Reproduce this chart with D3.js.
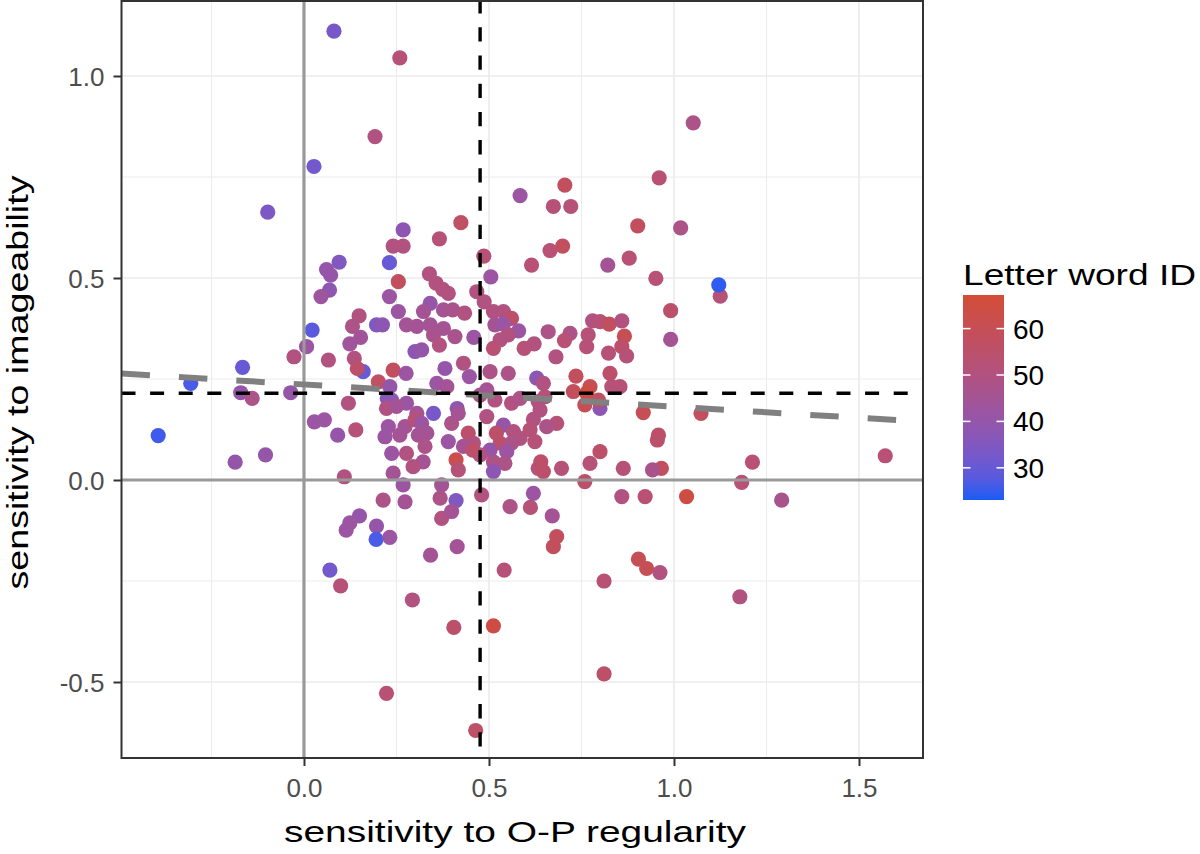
<!DOCTYPE html>
<html><head><meta charset="utf-8">
<script src="https://cdn.jsdelivr.net/npm/d3@7"></script>
<style>body{margin:0;background:#fff}svg{display:block}text{font-family:"Liberation Sans",Arial,sans-serif}</style>
</head><body>
<svg id="chart" width="1200" height="854"></svg>
<script>
// ---- data ----
const xVals = [0.081,0.192,0.027,-0.098,0.259,0.584,0.705,0.674,0.721,0.902,0.268,0.241,0.268,0.366,0.424,0.699,0.665,0.486,
1.052,0.960,1.018,
0.095,0.061,0.072,0.069,0.046,0.022,0.149,0.131,0.153,0.196,0.124,0.007,-0.027,0.066,0.136,0.160,0.144,0.201,-0.166,-0.306,-0.171,-0.140,-0.036,0.120,0.028,0.055,0.091,0.140,-0.394,-0.186,-0.104,0.109,0.214,
0.231,0.615,0.821,0.879,0.255,0.505,0.339,0.357,0.375,0.390,0.467,0.487,0.231,0.255,0.341,0.323,0.377,0.402,0.434,0.212,0.277,0.305,0.341,0.377,0.408,0.350,0.366,0.300,0.318,0.459,
0.512,0.539,0.561,0.516,0.539,0.580,0.530,0.552,0.512,0.660,0.622,0.595,0.681,0.719,0.704,0.780,0.800,0.825,0.859,0.768,0.764,0.866,0.823,0.859,0.872,
0.241,0.276,0.381,0.431,0.447,0.503,0.552,0.629,0.647,0.735,0.800,0.773,0.827,0.832,0.854,0.728,0.764,0.759,0.796,0.917,
0.232,0.225,0.237,0.223,0.277,0.350,0.359,0.386,0.414,0.476,0.494,0.516,0.561,0.584,0.633,0.651,0.638,0.620,0.683,0.656,
0.250,0.305,0.228,0.273,0.300,0.318,0.219,0.259,0.309,0.332,0.399,0.417,0.390,0.444,0.458,0.494,0.539,0.520,0.566,0.584,0.611,0.624,0.530,0.561,0.431,0.503,0.548,0.476,0.512,0.543,0.512,0.411,0.456,0.417,0.322,0.295,0.277,0.237,0.327,
0.241,0.268,0.273,0.372,0.368,0.411,0.480,0.557,0.620,0.633,0.647,0.640,0.696,0.773,0.800,0.759,0.863,0.859,0.922,
0.951,1.125,1.121,0.991,0.991,1.073,0.958,0.955,0.966,0.942,1.212,1.183,1.571,1.034,1.291,
0.150,0.124,0.114,0.196,0.195,0.070,0.099,0.223,
0.612,0.671,0.232,0.372,0.399,0.414,0.342,0.683,0.674,0.541,0.904,0.926,0.811,0.293,0.405,0.512,0.811,0.464,0.962,1.178];
const yVals = [1.111,0.850,0.776,0.663,1.045,0.704,0.730,0.677,0.677,0.629,0.619,0.579,0.579,0.597,0.637,0.579,0.568,0.554,
0.884,0.748,0.624,
0.539,0.521,0.507,0.470,0.454,0.371,0.406,0.380,0.353,0.384,0.337,0.330,0.305,0.297,0.301,0.268,0.276,0.243,0.279,0.239,0.216,0.202,0.216,0.190,0.144,0.149,0.111,0.124,0.110,0.044,0.062,0.008,-0.050,
0.538,0.532,0.532,0.549,0.491,0.503,0.510,0.487,0.472,0.462,0.466,0.441,0.454,0.417,0.437,0.417,0.421,0.421,0.413,0.384,0.384,0.380,0.384,0.375,0.355,0.359,0.334,0.318,0.322,0.353,
0.417,0.417,0.400,0.384,0.386,0.369,0.347,0.359,0.326,0.367,0.337,0.326,0.305,0.363,0.345,0.394,0.392,0.386,0.394,0.359,0.330,0.356,0.314,0.330,0.307,
0.272,0.264,0.276,0.289,0.256,0.268,0.264,0.252,0.239,0.257,0.177,0.231,0.264,0.231,0.231,0.219,0.215,0.186,0.198,0.167,
0.231,0.202,0.198,0.177,0.190,0.165,0.239,0.231,0.177,0.210,0.223,0.198,0.190,0.202,0.194,0.206,0.173,0.150,0.140,0.132,
0.182,0.165,0.132,0.132,0.149,0.140,0.107,0.111,0.111,0.116,0.140,0.165,0.095,0.116,0.091,0.157,0.136,0.116,0.120,0.103,0.124,0.095,0.091,0.091,0.083,0.074,0.070,0.062,0.045,0.041,0.021,0.050,0.074,0.025,0.045,0.033,0.066,0.066,0.083,
0.017,-0.012,-0.054,-0.012,-0.045,-0.051,-0.037,-0.066,-0.033,0.029,0.021,0.045,0.029,0.041,0.070,-0.004,0.029,-0.041,-0.041,
0.499,0.455,0.483,0.419,0.348,0.165,0.111,0.099,0.029,0.025,0.044,-0.006,0.060,-0.041,-0.050,
-0.089,-0.106,-0.124,-0.114,-0.147,-0.223,-0.262,-0.528,
-0.068,-0.089,-0.142,-0.095,-0.078,-0.165,-0.186,-0.140,-0.165,-0.223,-0.196,-0.219,-0.250,-0.297,-0.365,-0.361,-0.480,-0.620,-0.229,-0.289];
const idVals = [33,50,32,34,52,42,58,52,52,58,38,50,50,52,57,58,53,52,
48,53,48,
35,40,40,38,43,28,50,48,44,35,44,42,50,50,50,30,55,57,30,26,40,48,40,50,42,42,40,52,25,40,40,50,48,
30,53,45,53,58,42,50,50,50,50,50,50,42,42,40,45,45,47,50,38,45,45,45,45,47,47,50,38,40,42,
50,50,55,45,42,42,50,50,53,48,50,52,50,48,53,50,52,58,50,52,52,60,52,55,52,
58,42,40,50,42,48,48,38,50,58,38,60,55,52,52,58,65,60,58,60,
40,36,38,50,42,33,42,45,38,48,45,50,50,48,50,52,50,50,52,48,
45,45,42,45,52,42,42,45,45,45,48,45,42,55,50,50,40,55,50,50,52,52,55,48,45,40,42,50,48,48,38,62,55,52,45,50,50,42,48,
45,42,45,45,48,35,50,48,42,52,55,55,52,52,55,55,52,50,53,
53,52,24,55,45,58,55,55,58,47,53,53,53,64,47,
40,42,42,40,26,32,52,53,
52,45,42,50,45,45,45,58,58,52,60,60,53,50,55,64,55,56,50,50];

const xTicks = [0.0, 0.5, 1.0, 1.5];
const xMinor = [-0.25, 0.25, 0.75, 1.25];
const yTicks = [-0.5, 0.0, 0.5, 1.0];
const yMinor = [-0.25, 0.25, 0.75];
const legendTicks = [30, 40, 50, 60];
const vRefX = 0.476;       // vertical dashed reference
const hRefY = 0.2146;      // horizontal dashed reference
const regIntercept = 0.2364, regSlope = -0.055;
const xTitle = "sensitivity to O-P regularity";
const yTitle = "sensitivity to imageability";
const legendTitle = "Letter word ID";

// ---- layout ----
const svg = d3.select("#chart");
const P = {l:121.5, r:923, t:1, b:758};
const x = d3.scaleLinear().domain([-0.4932, 1.6730]).range([P.l, P.r]);
const y = d3.scaleLinear().domain([-0.6881, 1.1856]).range([P.b, P.t]);
const idDomain = [23.06, 67.24];
const color = d3.scaleLinear().domain(idDomain).range(["#1b5cf4", "#d34c36"]).interpolate(d3.interpolateLab);

const fmt = d => d.toFixed(1);
const g = svg.append("g");

// grid
g.selectAll(".vmin").data(xMinor).join("line").attr("x1",d=>x(d)).attr("x2",d=>x(d)).attr("y1",P.t).attr("y2",P.b).attr("stroke","#ebebeb").attr("stroke-width",1);
g.selectAll(".hmin").data(yMinor).join("line").attr("y1",d=>y(d)).attr("y2",d=>y(d)).attr("x1",P.l).attr("x2",P.r).attr("stroke","#ebebeb").attr("stroke-width",1);
g.selectAll(".vmaj").data(xTicks).join("line").attr("x1",d=>x(d)).attr("x2",d=>x(d)).attr("y1",P.t).attr("y2",P.b).attr("stroke","#ebebeb").attr("stroke-width",1.6);
g.selectAll(".hmaj").data(yTicks).join("line").attr("y1",d=>y(d)).attr("y2",d=>y(d)).attr("x1",P.l).attr("x2",P.r).attr("stroke","#ebebeb").attr("stroke-width",1.6);

// points
const pts = xVals.map((v,i)=>({x:v, y:yVals[i], id:idVals[i]}));
g.selectAll("circle").data(pts).join("circle")
  .attr("cx",d=>x(d.x)).attr("cy",d=>y(d.y)).attr("r",7.6).attr("fill",d=>color(d.id));

// zero lines
g.append("line").attr("x1",x(0)).attr("x2",x(0)).attr("y1",P.t).attr("y2",P.b).attr("stroke","#999").attr("stroke-width",3.2);
g.append("line").attr("x1",P.l).attr("x2",P.r).attr("y1",y(0)).attr("y2",y(0)).attr("stroke","#999").attr("stroke-width",3.2);

// regression (gray long dash)
const xd = x.domain();
g.append("line").attr("x1",x(xd[0])).attr("y1",y(regIntercept+regSlope*xd[0]))
  .attr("x2",x(xd[1])).attr("y2",y(regIntercept+regSlope*xd[1]))
  .attr("stroke","#808080").attr("stroke-width",6).attr("stroke-dasharray","28.5,29");

// black dashed reference lines
g.append("line").attr("x1",x(vRefX)).attr("x2",x(vRefX)).attr("y1",P.t).attr("y2",P.b)
  .attr("stroke","#000").attr("stroke-width",3.4).attr("stroke-dasharray","14.3,13.9").attr("stroke-dashoffset",1.9);
g.append("line").attr("x1",P.l).attr("x2",P.r).attr("y1",y(hRefY)).attr("y2",y(hRefY))
  .attr("stroke","#000").attr("stroke-width",3.4).attr("stroke-dasharray","14,14.6");

// panel border
g.append("rect").attr("x",P.l).attr("y",P.t).attr("width",P.r-P.l).attr("height",P.b-P.t).attr("fill","none").attr("stroke","#333").attr("stroke-width",2);

// axes
const xAxis = d3.axisBottom(x).tickValues(xTicks).tickFormat(fmt).tickSize(8).tickPadding(6);
const yAxis = d3.axisLeft(y).tickValues(yTicks).tickFormat(fmt).tickSize(8).tickPadding(9);
const gx = svg.append("g").attr("transform",`translate(0,${P.b})`).call(xAxis);
const gy = svg.append("g").attr("transform",`translate(${P.l},0)`).call(yAxis);
[gx,gy].forEach(a=>{
  a.select(".domain").remove();
  a.selectAll(".tick line").attr("stroke","#333").attr("stroke-width",2);
  a.selectAll(".tick text").attr("fill","#4d4d4d").attr("font-size",26).attr("font-family","Liberation Sans, Arial, sans-serif");
});
gx.selectAll(".tick text").attr("dy","0.95em");
gy.selectAll(".tick text").attr("dy","0.36em");

// titles
svg.append("text").attr("x",515).attr("y",842).attr("text-anchor","middle").attr("font-size",30)
  .attr("textLength",462).attr("lengthAdjust","spacingAndGlyphs").attr("fill","#000").text(xTitle);
svg.append("text").attr("transform",`translate(28,${(P.t+P.b)/2+3}) rotate(-90)`).attr("text-anchor","middle").attr("font-size",30)
  .attr("textLength",414).attr("lengthAdjust","spacingAndGlyphs").attr("fill","#000").text(yTitle);

// legend
const L = {x:963, w:41, t:295, b:500};
const ly = d3.scaleLinear().domain(idDomain).range([L.b, L.t]);
const defs = svg.append("defs");
const grad = defs.append("linearGradient").attr("id","lg").attr("x1",0).attr("x2",0).attr("y1",1).attr("y2",0);
d3.range(0,1.0001,0.1).forEach(t=>{
  const v = idDomain[0]+t*(idDomain[1]-idDomain[0]);
  grad.append("stop").attr("offset",t).attr("stop-color",color(v));
});
svg.append("rect").attr("x",L.x).attr("y",L.t).attr("width",L.w).attr("height",L.b-L.t).attr("fill","url(#lg)");
const lt = svg.append("g");
legendTicks.forEach(v=>{
  lt.append("line").attr("x1",L.x).attr("x2",L.x+7.5).attr("y1",ly(v)).attr("y2",ly(v)).attr("stroke","#fff").attr("stroke-width",1.5);
  lt.append("line").attr("x1",L.x+L.w-7.5).attr("x2",L.x+L.w).attr("y1",ly(v)).attr("y2",ly(v)).attr("stroke","#fff").attr("stroke-width",1.5);
  lt.append("text").attr("x",L.x+L.w+9).attr("y",ly(v)).attr("dy","0.36em").attr("font-size",28).attr("fill","#000").text(v);
});
svg.append("text").attr("x",L.x).attr("y",285).attr("font-size",30).attr("textLength",233).attr("lengthAdjust","spacingAndGlyphs").attr("fill","#000").text(legendTitle);
</script>
</body></html>
